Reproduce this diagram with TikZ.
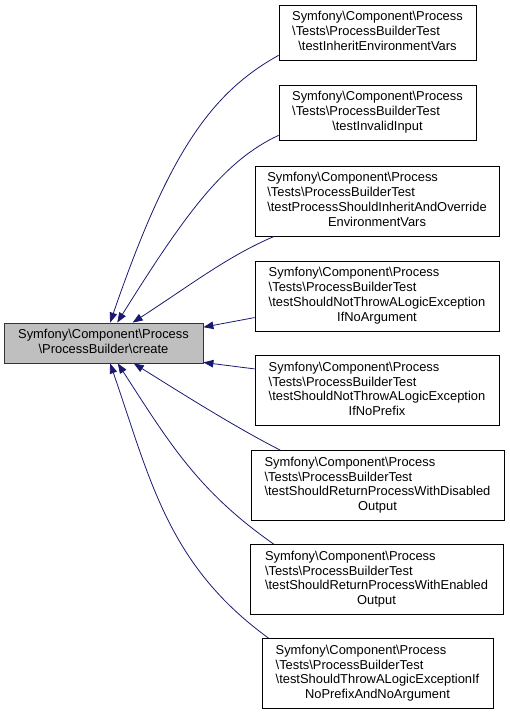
\documentclass[tikz,border=0pt]{standalone}
\usepackage{fontspec}
\setmainfont{Liberation Sans}
\usetikzlibrary{arrows.meta}
\definecolor{edgeblue}{HTML}{191970}
\definecolor{boxgray}{HTML}{BFBFBF}
\newcommand{\bsl}{\textbackslash}
\newcommand{\dlabel}[2]{\fontsize{12.9}{14.8}\selectfont\begin{tabular}{@{}l@{}}#1\\\multicolumn{1}{@{}c@{}}{#2}\end{tabular}}
\tikzset{
  box/.style={draw=black, line width=0.8pt, fill=white, inner sep=0pt, rectangle},
  mainbox/.style={box, fill=boxgray, draw=black!80},
  edge/.style={draw=edgeblue, line width=0.8pt, -{Triangle[length=10pt,width=7.5pt]}},
}
\begin{document}
\begin{tikzpicture}[x=1pt,y=1pt]
\useasboundingbox (0,0) rectangle (509,-715);
\node[mainbox, minimum width=199pt, minimum height=40pt] (create) at (103.5,-343)
  {\dlabel{Symfony\bsl Component\bsl Process}{\bsl ProcessBuilder\bsl create}};
\node[box, minimum width=197pt, minimum height=55pt] (n1) at (377.5,-32.5)
  {\dlabel{Symfony\bsl Component\bsl Process\\\bsl Tests\bsl ProcessBuilderTest}{\bsl testInheritEnvironmentVars}};
\node[box, minimum width=197pt, minimum height=55pt] (n2) at (377.5,-112.5)
  {\dlabel{Symfony\bsl Component\bsl Process\\\bsl Tests\bsl ProcessBuilderTest}{\bsl testInvalidInput}};
\node[box, minimum width=244pt, minimum height=70pt] (n3) at (377,-201)
  {\dlabel{Symfony\bsl Component\bsl Process\\\bsl Tests\bsl ProcessBuilderTest\\\bsl testProcessShouldInheritAndOverride}{EnvironmentVars}};
\node[box, minimum width=244pt, minimum height=70pt] (n4) at (377,-296)
  {\dlabel{Symfony\bsl Component\bsl Process\\\bsl Tests\bsl ProcessBuilderTest\\\bsl testShouldNotThrowALogicException}{IfNoArgument}};
\node[box, minimum width=244pt, minimum height=70pt] (n5) at (377,-390.5)
  {\dlabel{Symfony\bsl Component\bsl Process\\\bsl Tests\bsl ProcessBuilderTest\\\bsl testShouldNotThrowALogicException}{IfNoPrefix}};
\node[box, minimum width=253pt, minimum height=70pt] (n6) at (377.5,-485.5)
  {\dlabel{Symfony\bsl Component\bsl Process\\\bsl Tests\bsl ProcessBuilderTest\\\bsl testShouldReturnProcessWithDisabled}{Output}};
\node[box, minimum width=253pt, minimum height=70pt] (n7) at (376.5,-579.5)
  {\dlabel{Symfony\bsl Component\bsl Process\\\bsl Tests\bsl ProcessBuilderTest\\\bsl testShouldReturnProcessWithEnabled}{Output}};
\node[box, minimum width=231pt, minimum height=70pt] (n8) at (377.5,-673.5)
  {\dlabel{Symfony\bsl Component\bsl Process\\\bsl Tests\bsl ProcessBuilderTest\\\bsl testShouldThrowALogicExceptionIf}{NoPrefixAndNoArgument}};
\draw[edge] (n1.193) .. controls +(209:78) and +(71:178) .. (create.72);
\draw[edge] (n2.193) .. controls +(205:60) and +(58:130) .. (create.56);
\draw[edge] (n3.199) .. controls +(203:50) and +(33:70) .. (create.35);
\draw[edge] (n4.190) -- (create.9);
\draw[edge] (n5.170.5) -- (create.-11);
\draw[edge] (n6.160.7) .. controls +(153:50) and +(-32:60) .. (create.-34);
\draw[edge] (n7.161.9) to[out=145,in=-57] (create.-55);
\draw[edge] (n8.162.7) to[out=144,in=-71] (create.-72);
\end{tikzpicture}
\end{document}
